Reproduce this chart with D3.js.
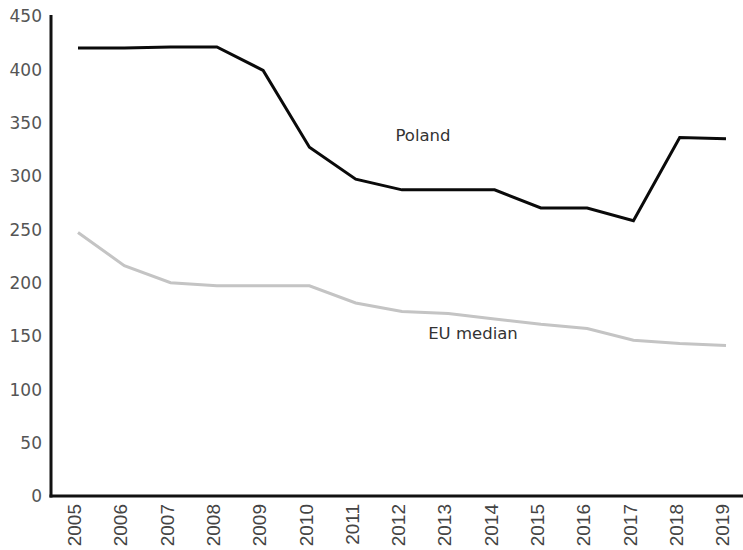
<!DOCTYPE html>
<html><head><meta charset="utf-8">
<script src="https://cdn.jsdelivr.net/npm/d3@7"></script>
<style>body{margin:0;background:#fff}</style>
</head><body>
<svg id="c" width="743" height="550"></svg>
<script>
const years = [2005,2006,2007,2008,2009,2010,2011,2012,2013,2014,2015,2016,2017,2018,2019];
const poland = [420,420,421,421,399,327,297,287,287,287,270,270,258,336,335];
const euMedian = [247,216,200,197,197,197,181,173,171,166,161,157,146,143,141];
const yTicks = [0,50,100,150,200,250,300,350,400,450];

const svg = d3.select("#c");
const x = d3.scalePoint().domain(years).range([78, 726]);
const y = d3.scaleLinear().domain([0,450]).range([496, 16]);

// axes
const yAxis = svg.append("g").attr("transform","translate(51,0)")
  .call(d3.axisLeft(y).tickValues(yTicks).tickSize(0).tickPadding(9));
yAxis.select(".domain").remove();
yAxis.selectAll("text").attr("font-family","DejaVu Sans").attr("font-size",17).attr("fill","#555").attr("dy","0.35em");

const xAxis = svg.append("g").attr("transform","translate(0,496)")
  .call(d3.axisBottom(x).tickSize(0).tickPadding(0));
xAxis.select(".domain").remove();
xAxis.selectAll("text")
  .attr("font-family","Liberation Sans").attr("font-size",19).attr("fill","#444")
  .attr("transform","rotate(-90)").attr("text-anchor","end")
  .attr("x",-8).attr("y",-4).attr("dy","0.35em");

svg.append("line").attr("x1",51).attr("x2",51).attr("y1",15).attr("y2",497.5).attr("stroke","#111").attr("stroke-width",3);
svg.append("line").attr("x1",49.5).attr("x2",743).attr("y1",496).attr("y2",496).attr("stroke","#111").attr("stroke-width",3);

const line = d3.line().x((d,i)=>x(years[i])).y(d=>y(d));
svg.append("path").datum(euMedian).attr("d",line).attr("fill","none").attr("stroke","#c4c4c4").attr("stroke-width",3);
svg.append("path").datum(poland).attr("d",line).attr("fill","none").attr("stroke","#0a0a0a").attr("stroke-width",3);

svg.append("text").attr("x",423).attr("y",141).attr("text-anchor","middle")
  .attr("font-family","DejaVu Sans").attr("font-size",16.5).attr("fill","#333").text("Poland");
svg.append("text").attr("x",473).attr("y",339).attr("text-anchor","middle")
  .attr("font-family","DejaVu Sans").attr("font-size",16.5).attr("fill","#333").text("EU median");
</script>
</body></html>
